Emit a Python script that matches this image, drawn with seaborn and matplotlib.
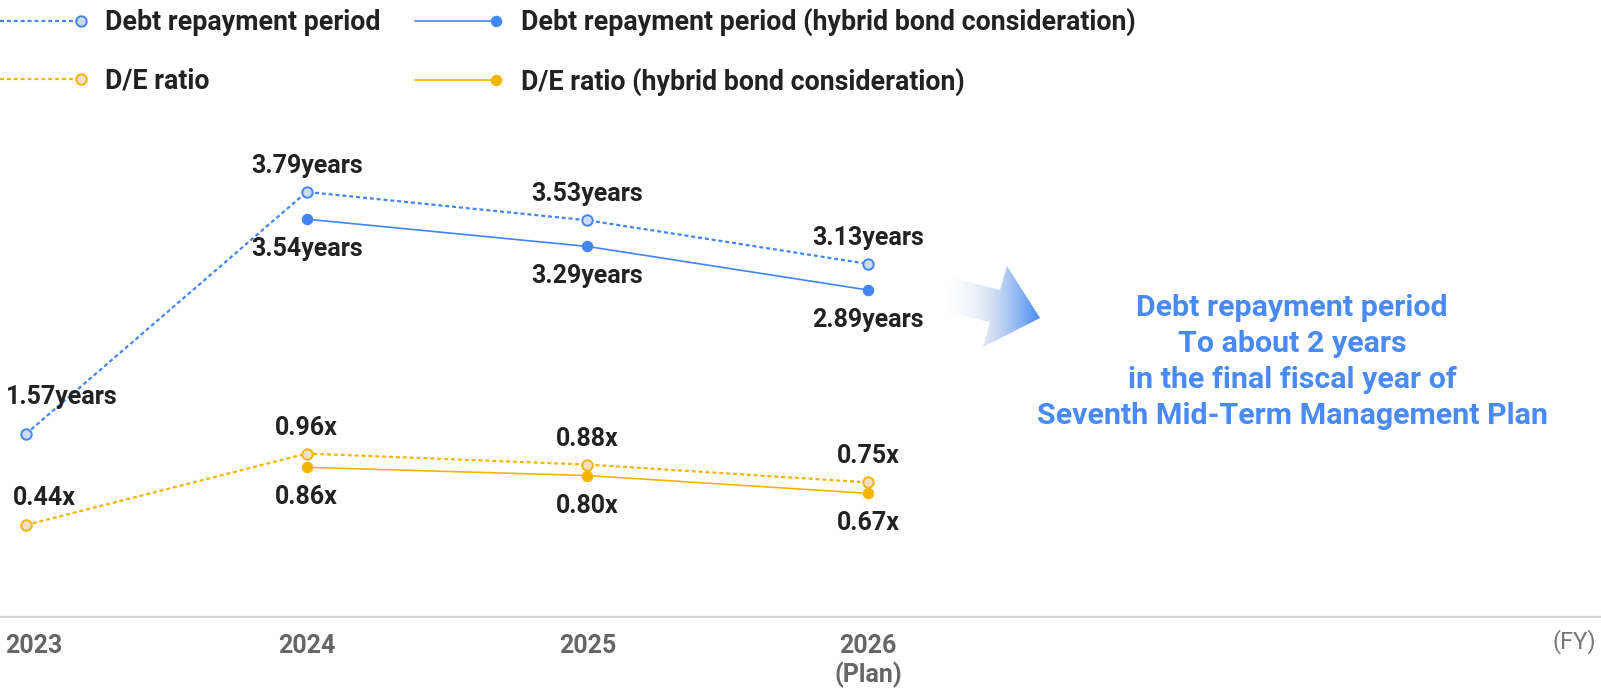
import numpy as np
import pandas as pd
import matplotlib
matplotlib.use('Agg')
import matplotlib.pyplot as plt
import matplotlib.transforms as mtrans
import seaborn as sns
from matplotlib.legend_handler import HandlerLine2D
from matplotlib.patches import Polygon
from matplotlib.colors import LinearSegmentedColormap

years = [2023, 2024, 2025, 2026]
tick_labels = ['2023', '2024', '2025', '2026\n(Plan)']
debt_period = [1.57, 3.79, 3.53, 3.13]
debt_period_hybrid = [np.nan, 3.54, 3.29, 2.89]
de_ratio = [0.44, 0.96, 0.88, 0.75]
de_ratio_hybrid = [np.nan, 0.86, 0.80, 0.67]

BLUE = '#4285f4'
BLUE_FILL = '#cddcf6'
ORANGE = '#f4b400'
ORANGE_FILL = '#f3e0c6'
TXT = '#222222'

df = pd.DataFrame({
    'year': years,
    'debt': debt_period,
    'debt_h': debt_period_hybrid,
    'de': de_ratio,
    'de_h': de_ratio_hybrid,
})

sns.set_style('white')
plt.rcParams['font.family'] = ['Roboto', 'DejaVu Sans']

fig = plt.figure(figsize=(16.01, 6.92), dpi=100)
ax = fig.add_axes([0, 1 - 617 / 692, 1, 617 / 692])
ax2 = ax.twinx()

dot = (0, (1.8, 1.3))
sns.lineplot(data=df, x='year', y='debt', ax=ax, color=BLUE, lw=1.6, linestyle=dot,
             marker='o', markersize=7.5, markerfacecolor=BLUE_FILL, markeredgecolor=BLUE,
             markeredgewidth=1.4, label='Debt repayment period')
sns.lineplot(data=df.dropna(), x='year', y='debt_h', ax=ax, color=BLUE, lw=1.2,
             marker='o', markersize=7.5, markerfacecolor=BLUE, markeredgecolor=BLUE,
             label='Debt repayment period (hybrid bond consideration)')
sns.lineplot(data=df, x='year', y='de', ax=ax2, color=ORANGE, lw=1.6, linestyle=dot,
             marker='o', markersize=7.5, markerfacecolor=ORANGE_FILL, markeredgecolor=ORANGE,
             markeredgewidth=1.4, label='D/E ratio')
sns.lineplot(data=df.dropna(), x='year', y='de_h', ax=ax2, color=ORANGE, lw=1.2,
             marker='o', markersize=7.5, markerfacecolor=ORANGE, markeredgecolor=ORANGE,
             label='D/E ratio (hybrid bond consideration)')

ax.set_xlim(2023 - 0.0926, 2023 + 5.611)
ax.set_ylim(-0.110, 5.551)
ax2.set_ylim(-0.231, 4.266)

# value labels
lab_kw = dict(textcoords='offset pixels', ha='center', va='center',
              fontsize=18, color=TXT, fontweight='bold')
for i, (yr, v) in enumerate(zip(years, debt_period)):
    off = (36, 37) if i == 0 else (0, 26)
    ax.annotate(f'{v:.2f}years', (yr, v), xytext=off, **lab_kw)
for yr, v in zip(years, debt_period_hybrid):
    if not np.isnan(v):
        ax.annotate(f'{v:.2f}years', (yr, v), xytext=(0, -30), **lab_kw)
for i, (yr, v) in enumerate(zip(years, de_ratio)):
    off = (18, 27) if i == 0 else (0, 26)
    ax2.annotate(f'{v:.2f}x', (yr, v), xytext=off, **lab_kw)
for yr, v in zip(years, de_ratio_hybrid):
    if not np.isnan(v):
        ax2.annotate(f'{v:.2f}x', (yr, v), xytext=(0, -30), **lab_kw)

# axes styling
for a in (ax, ax2):
    for s in ['top', 'left', 'right', 'bottom']:
        a.spines[s].set_visible(False)
    a.set_yticks([])
    a.set_ylabel('')
ax.spines['bottom'].set_visible(True)
ax.spines['bottom'].set_color('#d4d4d4')
ax.spines['bottom'].set_linewidth(1.6)
ax.set_xticks(years)
ax.set_xticklabels(tick_labels, color='#666666', fontsize=18, fontweight='bold')
ax.tick_params(axis='x', length=0, pad=12)
ax.set_xlabel('')
first = ax.get_xticklabels()[0]
first.set_ha('left')
first.set_transform(first.get_transform() + mtrans.ScaledTranslation(-0.21, 0, fig.dpi_scale_trans))
ax.text(0.997, -0.04, '(FY)', transform=ax.transAxes, ha='right', va='center',
        fontsize=17, color='#777777')

# legend: marker at the right end of the line
class EndMarker(HandlerLine2D):
    def create_artists(self, *args, **kwargs):
        arts = super().create_artists(*args, **kwargs)
        for a in arts:
            if len(a.get_xdata()) == 3:
                a.set_markevery([2])
        return arts

h1, l1 = ax.get_legend_handles_labels()
h2, l2 = ax2.get_legend_handles_labels()
ax.get_legend().remove()
ax2.get_legend().remove()
handles = [h1[0], h2[0], h1[1], h2[1]]
labels = [l1[0], l2[0], l1[1], l2[1]]
fig.legend(handles, labels, loc='upper left', bbox_to_anchor=(0, 1 - 8 / 692),
           ncol=2, frameon=False, borderpad=0, borderaxespad=0,
           handlelength=3.02, handletextpad=0.9, columnspacing=1.3, labelspacing=1.17,
           handler_map={h: EndMarker() for h in handles},
           prop={'size': 19.3, 'weight': 'bold'}, labelcolor=TXT)

# gradient arrow
aax = fig.add_axes([940 / 1601, 1 - 350 / 692, 105 / 1601, 90 / 692])
aax.set_xlim(940, 1045)
aax.set_ylim(350, 260)
aax.axis('off')
cmap = LinearSegmentedColormap.from_list('arr', [(1, 1, 1, 0), (0.75, 0.82, 0.93, 0.7), (0.2, 0.5, 0.96, 1)])
grad = np.linspace(0, 1, 256).reshape(1, -1)
im = aax.imshow(grad, extent=(940, 1045, 350, 260), cmap=cmap, aspect='auto')
arrow = Polygon([(953, 278), (1000, 290), (1007, 266), (1040, 318), (983, 347), (990, 322), (945, 312)],
                closed=True, facecolor='none', edgecolor='none', transform=aax.transData)
aax.add_patch(arrow)
im.set_clip_path(arrow)

fig.text(1292 / 1601, 1 - 362 / 692,
         'Debt repayment period\nTo about 2 years\nin the final fiscal year of\nSeventh Mid-Term Management Plan',
         ha='center', va='center', fontsize=21.9, fontweight='bold', color='#4a8af4', linespacing=1.36)

fig.savefig('out.png', dpi=100)
